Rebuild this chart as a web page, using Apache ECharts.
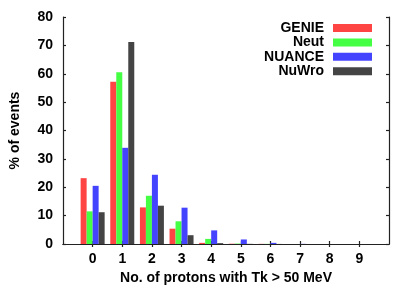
<!DOCTYPE html>
<html>
<head>
<meta charset="utf-8">
<script src="https://cdn.jsdelivr.net/npm/echarts@6/dist/echarts.min.js"></script>
<style>html,body{margin:0;padding:0;background:#fff}#c{width:415px;height:291px}</style>
</head>
<body>
<div id="c"></div>
<script>
var categories = ['', '0', '1', '2', '3', '4', '5', '6', '7', '8', '9', ''];
var seriesNames = ['GENIE', 'Neut', 'NUANCE', 'NuWro'];
var genie  = [null, 23.2, 57.2, 12.9, 5.4, 0.4, 0.1, 0.05, 0, 0, 0, null];
var neut   = [null, 11.5, 60.5, 17.0, 8.0, 1.8, 0.15, 0.05, 0, 0, 0, null];
var nuance = [null, 20.5, 33.9, 24.4, 12.8, 4.8, 1.6, 0.4, 0.05, 0, 0, null];
var nuwro  = [null, 11.2, 71.2, 13.5, 3.1, 0.3, 0.05, 0.02, 0, 0, 0, null];
var colors = ['#ff4444', '#44ff44', '#4444ff', '#444444'];
var yTicks = [0, 10, 20, 30, 40, 50, 60, 70, 80];

var font = 'Liberation Sans, Arial, Helvetica, sans-serif';
var chart = echarts.init(document.getElementById('c'), null, {renderer: 'canvas'});
var tickShow = function (i) { return categories[i] !== ''; };
var lineStyle = {color: '#222', width: 1.2};
var data = [genie, neut, nuance, nuwro];
chart.setOption({
  animation: false,
  backgroundColor: '#fff',
  textStyle: {fontFamily: font},
  grid: {left: 62, right: 26, top: 17, bottom: 47},
  legend: {
    orient: 'vertical', right: 43, top: 21, align: 'right', padding: 0,
    itemWidth: 39, itemHeight: 8, itemGap: 0.4,
    icon: 'rect',
    textStyle: {fontFamily: font, fontWeight: 'bold', fontSize: 14, lineHeight: 14, color: '#000', padding: [0, 4, 0, 0]},
    data: seriesNames
  },
  xAxis: [{
    type: 'category', data: categories, boundaryGap: false, position: 'bottom',
    axisLine: {lineStyle: lineStyle},
    axisTick: {inside: true, length: 3, interval: tickShow, lineStyle: lineStyle},
    axisLabel: {interval: tickShow, fontFamily: font, fontWeight: 'bold', fontSize: 14, color: '#000', margin: 8},
    name: 'No. of protons with Tk > 50 MeV', nameLocation: 'middle', nameGap: 27,
    nameTextStyle: {fontFamily: font, fontWeight: 'bold', fontSize: 14, color: '#000'}
  }, {
    type: 'category', data: categories, boundaryGap: false, position: 'top',
    axisLine: {lineStyle: lineStyle},
    axisTick: {inside: true, length: 3, interval: tickShow, lineStyle: lineStyle},
    axisLabel: {show: false}
  }],
  yAxis: [{
    type: 'value', min: 0, max: 80, interval: 10, position: 'left',
    axisLine: {show: true, lineStyle: lineStyle},
    axisTick: {show: true, inside: true, length: 3, lineStyle: lineStyle},
    splitLine: {show: false},
    axisLabel: {fontFamily: font, fontWeight: 'bold', fontSize: 14, color: '#000', margin: 10,
      formatter: function (v) { return yTicks.indexOf(v) >= 0 ? String(v) : ''; }},
    name: '% of events', nameLocation: 'middle', nameGap: 41, nameRotate: 90,
    nameTextStyle: {fontFamily: font, fontWeight: 'bold', fontSize: 14, color: '#000'}
  }, {
    type: 'value', min: 0, max: 80, interval: 10, position: 'right',
    axisLine: {show: true, lineStyle: lineStyle},
    axisTick: {show: true, inside: true, length: 3, lineStyle: lineStyle},
    splitLine: {show: false},
    axisLabel: {show: false}
  }],
  series: seriesNames.map(function (n, i) {
    return {
      name: n, type: 'bar', xAxisIndex: 0, yAxisIndex: 0,
      data: data[i], barWidth: 6, barGap: '0%',
      itemStyle: {color: colors[i]}
    };
  })
});
</script>
</body>
</html>
